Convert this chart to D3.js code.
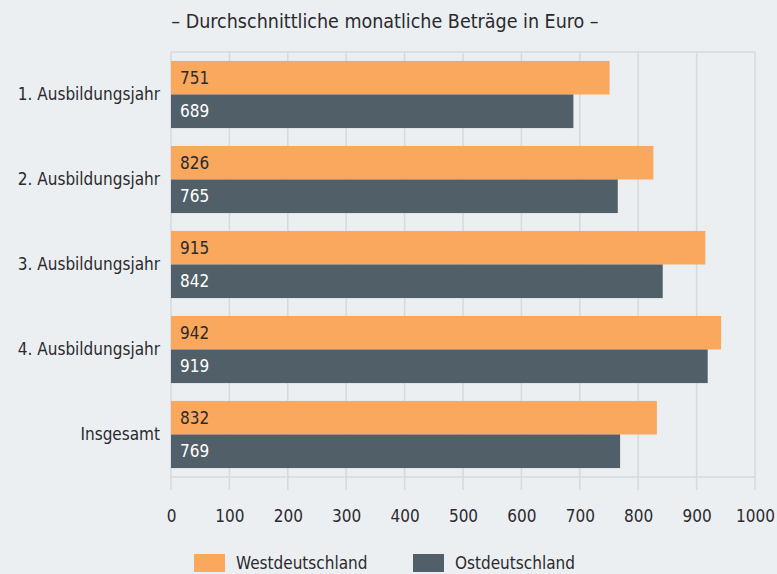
<!DOCTYPE html>
<html>
<head>
<meta charset="utf-8">
<script src="https://cdn.jsdelivr.net/npm/d3@7"></script>
<style>
  html, body { margin: 0; padding: 0; background: #eceff2; }
  svg { display: block; font-family: "Liberation Sans Narrow", "DejaVu Sans Condensed", "Roboto", sans-serif; }
</style>
</head>
<body>
<svg id="chart"></svg>
<script>
(function () {
var width = 777, height = 574
var svg = d3.select('#chart')
            .attr('width', width)
            .attr('height', height)

var categories = ['1. Ausbildungsjahr', '2. Ausbildungsjahr', '3. Ausbildungsjahr', '4. Ausbildungsjahr', 'Insgesamt']
var west = [751, 826, 915, 942, 832]
var ost = [689, 765, 842, 919, 769]
var series = ['Westdeutschland', 'Ostdeutschland']
var ticks = [0, 100, 200, 300, 400, 500, 600, 700, 800, 900, 1000]

var orange = '#f9a85d'
var slate = '#515f69'
var grid = '#d6d9dd'
var ink = '#2a2a2e'

var left = 171, right = 755, top = 52, bottom = 477

var x = d3.scaleLinear().domain([0, 1000]).range([left, right])
var y = d3.scaleBand().domain(categories).range([top, bottom]).paddingInner(0.21).paddingOuter(0.105)
var sub = d3.scaleBand().domain(series).range([0, y.bandwidth()])

// title
svg.append('text')
    .attr('x', 385).attr('y', 28)
    .attr('text-anchor', 'middle')
    .style('font-size', '19.5px')
    .attr('fill', ink)
    .text('\u2013 Durchschnittliche monatliche Beträge in Euro \u2013')

// grid
svg.append('g').selectAll('line')
    .data(ticks)
    .enter().append('line')
    .attr('x1', (d) => x(d)).attr('x2', (d) => x(d))
    .attr('y1', top).attr('y2', bottom + 13)
    .attr('stroke', grid).attr('stroke-width', 1.5)

svg.append('g').selectAll('line')
    .data([top, bottom])
    .enter().append('line')
    .attr('x1', left).attr('x2', right)
    .attr('y1', (d) => d).attr('y2', (d) => d)
    .attr('stroke', grid).attr('stroke-width', 1.5)

// axis labels
var axis = d3.axisBottom(x).tickValues(ticks).tickFormat(d3.format('d')).tickSize(0).tickPadding(0)
var ax = svg.append('g')
    .attr('transform', 'translate(0,' + (bottom + 33) + ')')
    .call(axis)
ax.select('.domain').remove()
ax.selectAll('text')
    .attr('fill', ink)
    .style('font-size', '17px')
ax.attr('font-family', null)

// category labels
svg.append('g').selectAll('text')
    .data(categories)
    .enter().append('text')
    .attr('x', 160)
    .attr('y', (d) => y(d) + y.bandwidth() / 2)
    .attr('dy', '0.35em')
    .attr('text-anchor', 'end')
    .style('font-size', '17px')
    .attr('fill', ink)
    .text((d) => d)

// bars
var rows = []
categories.forEach(function (c, i) {
    rows.push({cat: c, s: series[0], v: west[i], color: orange, text: ink})
    rows.push({cat: c, s: series[1], v: ost[i], color: slate, text: '#ffffff'})
})

var bars = svg.append('g').selectAll('g')
    .data(rows)
    .enter().append('g')
    .attr('transform', (d) => 'translate(0,' + (y(d.cat) + sub(d.s)) + ')')

bars.append('rect')
    .attr('x', x(0))
    .attr('width', (d) => x(d.v) - x(0))
    .attr('height', sub.bandwidth())
    .attr('fill', (d) => d.color)

bars.append('text')
    .attr('x', x(0) + 9)
    .attr('y', sub.bandwidth() / 2)
    .attr('dy', '0.36em')
    .style('font-size', '17px')
    .attr('fill', (d) => d.text)
    .text((d) => d.v)

// legend (kept just inside the bottom edge)
var legend = svg.append('g').selectAll('g')
    .data([{label: series[0], color: orange, x: 194}, {label: series[1], color: slate, x: 413}])
    .enter().append('g')
    .attr('transform', (d) => 'translate(' + d.x + ',554)')
legend.append('rect')
    .attr('width', 31).attr('height', 18)
    .attr('fill', (d) => d.color)
legend.append('text')
    .attr('x', 42).attr('y', 15)
    .style('font-size', '17px')
    .attr('fill', ink)
    .text((d) => d.label)
})();
</script>
</body>
</html>
